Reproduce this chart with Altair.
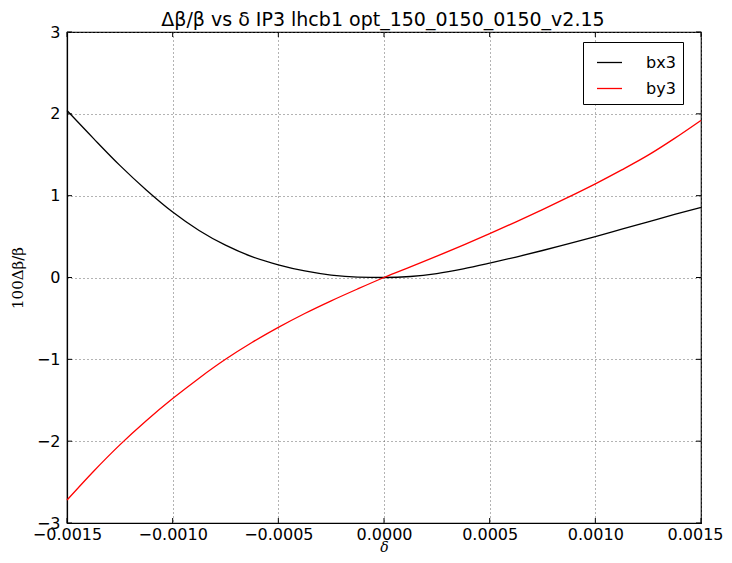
import altair as alt
import pandas as pd

delta = [-0.0015, -0.001375, -0.00125, -0.001125, -0.001, -0.000875, -0.00075, -0.000625,
         -0.0005, -0.000375, -0.00025, -0.000125, 0.0, 0.000125, 0.00025, 0.000375,
         0.0005, 0.000625, 0.00075, 0.000875, 0.001, 0.001125, 0.00125, 0.001375, 0.0015]
bx3 = [2.04, 1.70, 1.37, 1.07, 0.80, 0.575, 0.395, 0.255, 0.155, 0.08, 0.03, 0.005, 0.0,
       0.012, 0.048, 0.105, 0.175, 0.25, 0.33, 0.415, 0.50, 0.59, 0.68, 0.77, 0.855]
by3 = [-2.72, -2.37, -2.045, -1.75, -1.48, -1.23, -1.00, -0.795, -0.61, -0.44, -0.285, -0.14, 0.0,
       0.13, 0.26, 0.395, 0.535, 0.68, 0.83, 0.985, 1.145, 1.315, 1.495, 1.70, 1.92]
series_names = ["bx3", "by3"]
series_colors = ["black", "red"]
x_ticks = [-0.0015, -0.001, -0.0005, 0.0, 0.0005, 0.001, 0.0015]
y_ticks = [-3, -2, -1, 0, 1, 2, 3]
title_text = "Δβ/β vs δ IP3 lhcb1 opt_150_0150_0150_v2.15"

rows = []
for d, a, b in zip(delta, bx3, by3):
    rows.append({"delta": d, "value": a, "series": "bx3"})
    rows.append({"delta": d, "value": b, "series": "by3"})
df = pd.DataFrame(rows)

W, H = 634, 491
xscale = alt.Scale(domain=[-0.0015, 0.0015], nice=False, zero=False)
yscale = alt.Scale(domain=[-3, 3], nice=False, zero=False)

xaxis = alt.Axis(values=x_ticks, format=".4f", title="δ",
                 titleFont="DejaVu Serif", titleFontStyle="italic",
                 titleFontSize=14, titleFontWeight="normal",
                 titleBaseline="alphabetic",
                 titlePadding=9, labelPadding=3, labelFlush=False,
                 labelOverlap=False,
                 labelOffset={"condition": {"test": "datum.value > 0.00149", "value": -6},
                              "value": 0})
yaxis = alt.Axis(values=y_ticks, format="d", title="100Δβ/β",
                 titleFont="DejaVu Serif", titleFontSize=15,
                 titleFontWeight="normal",
                 titlePadding=11, labelPadding=7)

lines = alt.Chart(df).mark_line(strokeWidth=1.3, interpolate="monotone").encode(
    x=alt.X("delta:Q", scale=xscale, axis=xaxis),
    y=alt.Y("value:Q", scale=yscale, axis=yaxis),
    color=alt.Color("series:N",
                    scale=alt.Scale(domain=series_names, range=series_colors),
                    legend=alt.Legend(title=None, orient="none", legendX=516, legendY=10,
                                      symbolType="stroke", symbolSize=625,
                                      symbolStrokeWidth=1.3, labelFontSize=16,
                                      labelFont="DejaVu Sans", labelColor="black",
                                      labelOffset=23, symbolOffset=6,
                                      strokeColor="black", fillColor="white",
                                      padding=7, rowPadding=4, cornerRadius=0)),
)

xt = pd.DataFrame({"t": x_ticks})
yt = pd.DataFrame({"t": y_ticks})
tick_style = dict(color="black", strokeWidth=1)
xb = alt.Chart(xt).mark_rule(**tick_style).encode(
    x=alt.X("t:Q", scale=xscale, axis=xaxis), y=alt.value(H), y2=alt.value(H - 5))
xtop = alt.Chart(xt).mark_rule(**tick_style).encode(
    x=alt.X("t:Q", scale=xscale, axis=xaxis), y=alt.value(0), y2=alt.value(5))
yl = alt.Chart(yt).mark_rule(**tick_style).encode(
    y=alt.Y("t:Q", scale=yscale, axis=yaxis), x=alt.value(0), x2=alt.value(5))
yr = alt.Chart(yt).mark_rule(**tick_style).encode(
    y=alt.Y("t:Q", scale=yscale, axis=yaxis), x=alt.value(W), x2=alt.value(W - 5))

title_layer = alt.Chart(pd.DataFrame({"label": [title_text]})).mark_text(
    font="DejaVu Sans", fontSize=19, color="black", align="center",
    baseline="alphabetic"
).encode(text="label:N", x=alt.value(W / 2 - 1), y=alt.value(-6))

chart = alt.layer(lines, xb, xtop, yl, yr, title_layer).properties(
    width=W, height=H,
    autosize=alt.AutoSizeParams(type="none"),
    padding={"left": 59, "top": 24, "right": 22, "bottom": 31},
    background="white",
).configure_view(
    stroke="black", strokeWidth=1.2
).configure_axis(
    domainColor="black", domainWidth=1.2, tickSize=0,
    grid=True, gridColor="#666666", gridDash=[1, 3], gridWidth=1,
    labelFontSize=16, labelFont="DejaVu Sans", labelColor="black",
    titleColor="black"
)

chart.save("out.html", embed_options={"renderer": "svg", "actions": False})
